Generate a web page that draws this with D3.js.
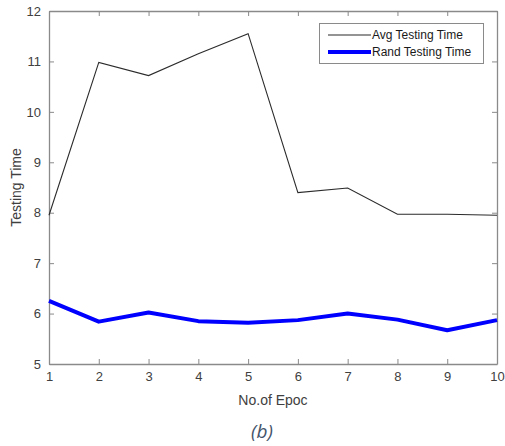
<!DOCTYPE html>
<html>
<head>
<meta charset="utf-8">
<script src="https://cdn.jsdelivr.net/npm/d3@7"></script>
<style>
  body { margin: 0; background: #fff; }
  text { font-family: "Liberation Sans", Arial, sans-serif; }
</style>
</head>
<body>
<div id="chart"></div>
<script>
const epochs = [1, 2, 3, 4, 5, 6, 7, 8, 9, 10];
const avgTime = [7.95, 10.98, 10.72, 11.15, 11.55, 8.4, 8.49, 7.97, 7.97, 7.95];
const randTime = [6.25, 5.84, 6.02, 5.85, 5.82, 5.87, 6.0, 5.88, 5.67, 5.87];
const yTicks = [5, 6, 7, 8, 9, 10, 11, 12];

const width = 505, height = 446;
const plotL = 49, plotR = 497, plotT = 11, plotB = 364;
const axisColor = "#8a8a8a";
const textColor = "#404040";

const svg = d3.select("#chart").append("svg")
  .attr("width", width).attr("height", height);

const x = d3.scaleLinear().domain([1, 10]).range([plotL, plotR]);
const y = d3.scaleLinear().domain([5, 12]).range([plotB, plotT]);

// axes box with inward ticks on all sides
const axes = [
  { gen: d3.axisBottom(x).tickValues(epochs).tickSize(-5).tickPadding(8), pos: `translate(0,${plotB})`, labels: true },
  { gen: d3.axisTop(x).tickValues(epochs).tickSize(-5), pos: `translate(0,${plotT})`, labels: false },
  { gen: d3.axisLeft(y).tickValues(yTicks).tickSize(-5).tickPadding(8), pos: `translate(${plotL},0)`, labels: true },
  { gen: d3.axisRight(y).tickValues(yTicks).tickSize(-5), pos: `translate(${plotR},0)`, labels: false }
];
axes.forEach(a => {
  const g = svg.append("g").attr("transform", a.pos)
    .call(a.gen.tickSizeOuter(0).tickFormat(d3.format("d")));
  g.select(".domain").attr("stroke", axisColor).attr("stroke-width", 1.3);
  g.selectAll(".tick line").attr("stroke", axisColor);
  g.selectAll(".tick text")
    .attr("fill", textColor)
    .style("font-size", "13px")
    .style("font-family", "'Liberation Sans', Arial, sans-serif")
    .style("display", a.labels ? null : "none");
});

const line = d3.line().x((d, i) => x(epochs[i])).y(d => y(d));

svg.append("path").datum(avgTime)
  .attr("d", line).attr("fill", "none")
  .attr("stroke", "#2b2b2b").attr("stroke-width", 1.1);

svg.append("path").datum(randTime)
  .attr("d", line).attr("fill", "none")
  .attr("stroke", "#0000ff").attr("stroke-width", 4)
  .attr("stroke-linejoin", "round");

// legend
const lg = svg.append("g");
lg.append("rect").attr("x", 319.5).attr("y", 23.5).attr("width", 164).attr("height", 40)
  .attr("fill", "#fff").attr("stroke", axisColor).attr("stroke-width", 1);
const legendItems = [
  { name: "Avg Testing Time", color: "#2b2b2b", w: 1.1, yy: 35 },
  { name: "Rand Testing Time", color: "#0000ff", w: 4, yy: 52 }
];
legendItems.forEach(d => {
  lg.append("line").attr("x1", 328).attr("x2", 371).attr("y1", d.yy).attr("y2", d.yy)
    .attr("stroke", d.color).attr("stroke-width", d.w);
  lg.append("text").attr("x", 372).attr("y", d.yy + 4)
    .attr("fill", "#1a1a1a").style("font-size", "12px").text(d.name);
});

// axis titles
svg.append("text").attr("x", (plotL + plotR) / 2).attr("y", 405)
  .attr("text-anchor", "middle").attr("fill", textColor)
  .style("font-size", "14px").text("No.of Epoc");

svg.append("text")
  .attr("transform", `translate(21,${(plotT + plotB) / 2}) rotate(-90)`)
  .attr("text-anchor", "middle").attr("fill", textColor)
  .style("font-size", "14px").text("Testing Time");

svg.append("text").attr("x", 262).attr("y", 438)
  .attr("text-anchor", "middle").attr("fill", "#44546a")
  .style("font-family", "'Open Sans', sans-serif")
  .style("font-style", "italic").style("font-size", "19px").text("(b)");
</script>
</body>
</html>
